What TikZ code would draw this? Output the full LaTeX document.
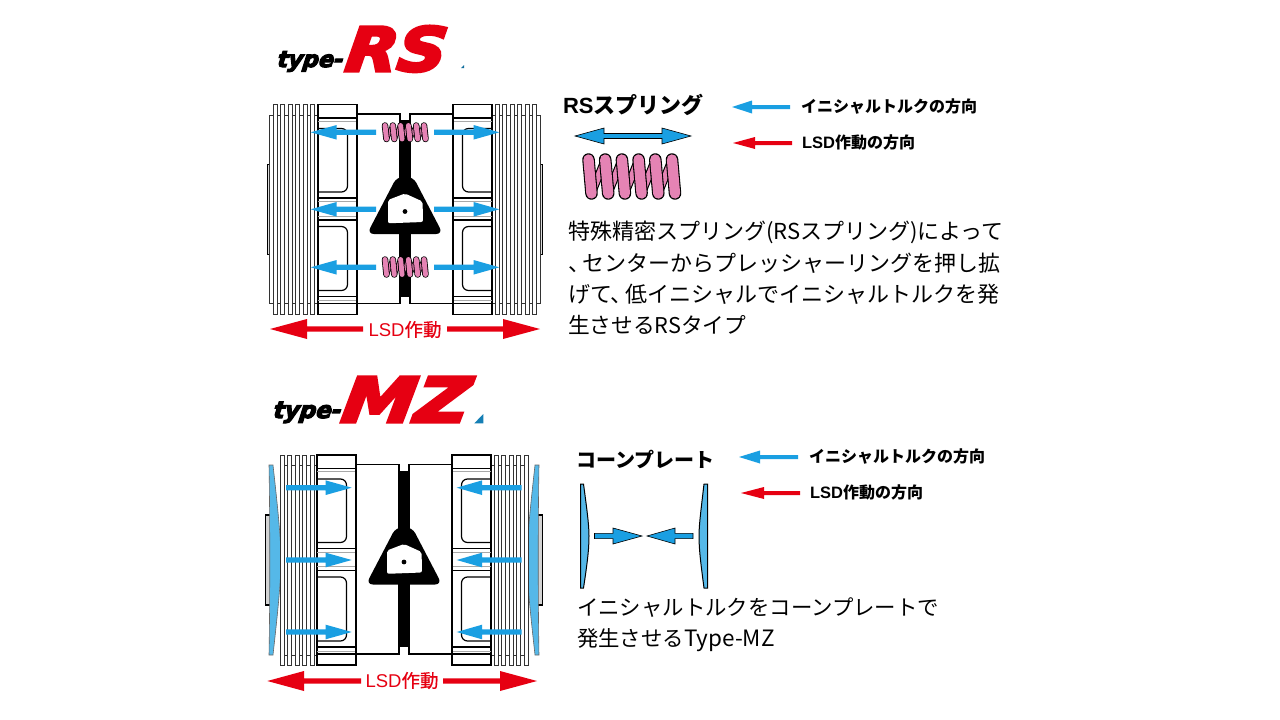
\documentclass[tikz,border=0pt]{standalone}
\usepackage{fontspec}
\usepackage{graphicx}
\setmainfont{Noto Sans CJK JP}
\newfontfamily\logofont[BoldItalicFeatures={FakeBold=5,FakeSlant=.12}]{DejaVu Sans}
\newfontfamily\lat{Liberation Sans}
\newfontfamily\medjp[UprightFeatures={FakeBold=.5}]{Noto Sans CJK JP}
\definecolor{sblue}{HTML}{1A9FE2}
\definecolor{cone}{HTML}{55B8E8}
\definecolor{sred}{HTML}{E60012}
\definecolor{spink}{HTML}{E583B4}
\definecolor{lgray}{HTML}{A8A8A8}
\newcommand{\fsz}[1]{\fontsize{#1pt}{#1pt}\selectfont}
\newcommand{\tou}{、\hspace{-.32em}}
\tikzset{
  every node/.style={inner sep=0pt,outer sep=0pt},
  finline/.style={draw=black!80,line width=.8pt,fill=white},
  blk/.style={draw=black,line width=1.9pt,fill=white},
  ln/.style={draw=black,line width=1.2pt},
  win/.style={draw=black,line width=1.2pt,rounded corners=6pt},
  lbl/.style={anchor=base west},
  legend/.style={lbl,font=\fsz{16}\bfseries},
  bodytxt/.style={lbl,font=\fsz{22}},
}
\newcommand{\harrow}[7]{\path[#7] (#1,#4-#5) -- (#2,#4-#5) -- (#2,#4-#6) -- (#3,#4) -- (#2,#4+#6) -- (#2,#4+#5) -- (#1,#4+#5) -- cycle;}
% spring: x first top, y top, y bottom, pitch, lean, coil width, outline
\newcommand{\spring}[7]{%
  \foreach \i in {0,...,4}{%
    \draw[black,line width=#6*.5pt+#7 pt,line cap=round] ({#1+#4*\i+#5},#3) -- ({#1+#4*(\i+1)},#2);
    \draw[spink,line width=#6*.5pt,line cap=round] ({#1+#4*\i+#5},#3) -- ({#1+#4*(\i+1)},#2);
  }%
  \foreach \i in {0,...,5}{%
    \draw[black,line width=#6 pt,line cap=round] ({#1+#4*\i},#2) -- ({#1+#4*\i+#5},#3);
    \draw[spink,line width=#6 pt-#7 pt,line cap=round] ({#1+#4*\i},#2) -- ({#1+#4*\i+#5},#3);
  }}
\newcommand{\corehalf}{%
  \draw[blk] (-87,-105) rectangle (-48,105);
  \draw[ln] (-87,-91.5) -- (-48,-91.5);
  \draw[lgray,line width=.9pt] (-87,-88.5) -- (-48,-88.5);
  \draw[win] (-87,-81) -- (-57.5,-81) -- (-57.5,-17.5) -- (-87,-17.5);
  \draw[ln] (-87,-11.5) -- (-48,-11.5);
  \draw[lgray,line width=.8pt] (-87,-8) -- (-48,-8);
  \draw[lgray,line width=.8pt] (-87,6.5) -- (-48,6.5);
  \draw[ln] (-87,10.5) -- (-48,10.5);
  \draw[win] (-87,17) -- (-57.5,17) -- (-57.5,81) -- (-87,81);
  \draw[ln] (-87,87) -- (-48,87);
  \draw[lgray,line width=.8pt] (-87,91) -- (-48,91);
  \draw[ln] (-87,94) -- (-48,94);
  \draw[draw=black,line width=1.2pt,fill=white] (-48,-95.5) -- (-5,-95.5) -- (-5,94) -- (-48,94) -- cycle;
  \draw[black,line width=1.9pt] (-48,-105) -- (-48,105);
}
\newcommand{\centrepiece}{%
  \fill[black] (-5,-89.5) rectangle (5,87);
  \fill[black,rounded corners=7pt] (-8,-33) -- (-38,24.5) -- (38,24.5) -- (8,-33) -- cycle;
  \fill[white,rounded corners=2pt] (-17,-9.5) -- (0,-16) -- (17.6,-8) -- (18,12.5) -- (-17,13.8) -- cycle;
  \fill[black] (0,2) circle (2.4);
}
\begin{document}
\begin{tikzpicture}[x=1pt,y=-1pt]
\useasboundingbox (0,0) rectangle (1280,720);
\fill[white] (0,0) rectangle (1280,720);

% ---------- type-RS logo
\node[anchor=base west] (rstype) at (277,67) {\resizebox{66pt}{!}{\logofont\bfseries\itshape type-}};
\node[anchor=base west,text=sred] (rslogo) at (344,71) {\resizebox{100pt}{45pt}{\logofont\bfseries\itshape RS}};
\fill[sblue!70!black] (461,68) -- (464,68) -- (464,65) -- cycle;

% ---------- type-RS diagram
\begin{scope}[shift={(405,209.5)}]
  \foreach \s in {1,-1}{
    \begin{scope}[xscale=\s]
      \draw[black,line width=1.4pt,fill=lgray!40] (-134,-45) -- (-137.7,-45) -- (-137.7,45) -- (-134,45);
      \foreach \i in {0,...,6}{\draw[finline] ({-135.7+7.5*\i},-94) rectangle ({-131.7+7.5*\i},94);}
      \foreach \i in {0,...,5}{\draw[finline] ({-131.7+7.5*\i},-105) rectangle ({-127.7+7.5*\i},105);}
      \corehalf
    \end{scope}
  }
  \centrepiece
\end{scope}
\spring{385}{125.5}{139}{7.8}{1.5}{6.5}{1.6}
\spring{385}{259.5}{274.5}{7.8}{1.5}{6.5}{1.6}
\foreach \y in {132.3,209.3,267.3}{
  \harrow{376}{336.7}{310.7}{\y}{2.6}{7.3}{fill=sblue}
  \harrow{434}{473.5}{499.3}{\y}{2.6}{7.3}{fill=sblue}
}
\harrow{363}{307}{270}{329}{2.6}{10}{fill=sred}
\harrow{447}{503}{540}{329}{2.6}{10}{fill=sred}
\node[text=sred,font=\fsz{18.5}] (rslsd) at (405,329.5) {{\lat LSD}{\medjp 作動}};

% ---------- RS side panel
\node[lbl,font=\fsz{22}\bfseries] (rshead) at (563,113) {{\lat\bfseries RS}スプリング};
\path[draw=black,line width=.6pt,fill=sblue] (575,136) -- (604,128) -- (604,133.5) -- (662,133.5) -- (662,128) -- (691,136) -- (662,144) -- (662,138.5) -- (604,138.5) -- (604,144) -- cycle;
\spring{588.5}{159.5}{193.5}{16.7}{3}{12.5}{2.2}
\harrow{790}{752}{732}{107}{2}{6.5}{fill=sblue}
\harrow{792}{755}{733}{143}{2}{6}{fill=sred}
\node[legend] (rsleg1) at (801,112.5) {イニシャルトルクの方向};
\node[legend] (rsleg2) at (802,148.5) {{\lat\bfseries\fsz{16.5}LSD}作動の方向};
\node[bodytxt] (rsb1) at (568,239) {特殊精密スプリング(RSスプリング)によって};
\node[bodytxt] (rsb2) at (568,271) {\tou センターからプレッシャーリングを押し拡};
\node[bodytxt] (rsb3) at (568,302) {げて\tou 低イニシャルでイニシャルトルクを発};
\node[bodytxt,font=\fsz{21.7}] (rsb4) at (568,333) {生させるRSタイプ};

% ---------- type-MZ logo
\node[anchor=base west] (mztype) at (273,418) {\resizebox{68pt}{!}{\logofont\bfseries\itshape type-}};
\node[anchor=base west,text=sred] (mzlogo) at (340,422) {\resizebox{127pt}{45pt}{\logofont\bfseries\itshape MZ}};
\fill[sblue!80!black] (474.3,423.3) -- (483.3,423.3) -- (483.3,414) -- cycle;

% ---------- type-MZ diagram
\begin{scope}[shift={(404,560)}]
  \foreach \s in {1,-1}{
    \begin{scope}[xscale=\s]
      \draw[black,line width=1.4pt,fill=lgray!50] (-134,-45) -- (-138.5,-45) -- (-138.5,45) -- (-134,45);
      \draw[line width=.6pt,draw=black!60,fill=cone] (-135,-95) -- (-131,-95) .. controls (-126,-50) and (-123,-20) .. (-123,0) .. controls (-123,20) and (-126,50) .. (-131,95) -- (-135,95) .. controls (-134,45) and (-134,-45) .. (-135,-95) -- cycle;
      \foreach \i in {0,...,4}{\draw[finline] ({-120+7.5*\i},-95) rectangle ({-116+7.5*\i},95);}
      \foreach \i in {0,...,4}{\draw[finline] ({-124+7.5*\i},-105) rectangle ({-120+7.5*\i},105);}
      \corehalf
    \end{scope}
  }
  \centrepiece
\end{scope}
\foreach \y in {487.7,560,632}{
  \harrow{286}{325.7}{351.7}{\y}{2.6}{7.3}{fill=sblue}
  \harrow{521.7}{482}{456.7}{\y}{2.6}{7.3}{fill=sblue}
}
\harrow{361}{304}{267.3}{681}{2.6}{10}{fill=sred}
\harrow{443}{500}{537}{681}{2.6}{10}{fill=sred}
\node[text=sred,font=\fsz{18.5}] (mzlsd) at (402,680.5) {{\lat LSD}{\medjp 作動}};

% ---------- MZ side panel
\node[lbl,font=\fsz{20}\bfseries] (mzhead) at (576,467) {コーンプレート};
\draw[line width=1pt,fill=cone] (580.5,484) -- (583.5,484) .. controls (587,510) and (589,525) .. (589,536) .. controls (589,550) and (587,565) .. (583.5,588) -- (580.5,588) -- cycle;
\draw[line width=1pt,fill=cone] (707.5,484) -- (704,484) .. controls (701,510) and (699,525) .. (699,536) .. controls (699,550) and (701,565) .. (704,588) -- (707.5,588) -- cycle;
\harrow{594.5}{613}{642}{536}{2.6}{8}{draw=black,line width=.6pt,fill=sblue}
\harrow{693}{675}{647}{536}{2.6}{8}{draw=black,line width=.6pt,fill=sblue}
\harrow{798}{760}{739}{457}{2}{6.5}{fill=sblue}
\harrow{800}{764}{741}{493}{2}{6}{fill=sred}
\node[legend] (mzleg1) at (809,462.5) {イニシャルトルクの方向};
\node[legend] (mzleg2) at (810,498.5) {{\lat\bfseries\fsz{16.5}LSD}作動の方向};
\node[bodytxt,font=\fsz{21.4}] (mzb1) at (577,615) {イニシャルトルクをコーンプレートで};
\node[bodytxt,font=\fsz{21.4}] (mzb2) at (577,646) {発生させる{\fsz{22.5}Type-MZ}};
\end{tikzpicture}
\end{document}
